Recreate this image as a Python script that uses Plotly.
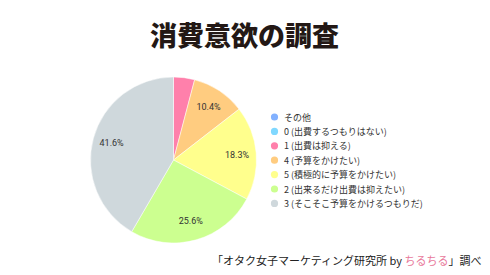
import plotly.graph_objects as go

labels = ["その他", "0 (出費するつもりはない)", "1 (出費は抑える)", "4 (予算をかけたい)",
          "5 (積極的に予算をかけたい)", "2 (出来るだけ出費は抑えたい)", "3 (そこそこ予算をかけるつもりだ)"]
values = [0, 0, 4.1, 10.4, 18.3, 25.6, 41.6]
colors = ["#82B1FF", "#80D8FF", "#FF80AB", "#FFCC80", "#FFFF8D", "#CCFF90", "#CFD8DC"]
slice_text = ["", "", "", "10.4%", "18.3%", "25.6%", "41.6%"]

W, H = 490, 275
cx, cy, r = 173.5, 160, 83
dom = dict(x=[(cx - r) / W, (cx + r) / W], y=[1 - (cy + r) / H, 1 - (cy - r) / H])

fig = go.Figure()
fig.add_trace(go.Pie(
    labels=labels, values=values, sort=False, direction="clockwise", rotation=0,
    marker=dict(colors=colors, line=dict(color="white", width=0.5)),
    textinfo="none", showlegend=False, hoverinfo="label+value", domain=dom,
))
# transparent ring used only to place the percentage labels further out
fig.add_trace(go.Pie(
    labels=labels, values=values, sort=False, direction="clockwise", rotation=0, hole=0.54,
    marker=dict(colors=["rgba(0,0,0,0)"] * len(labels), line=dict(width=0)),
    text=slice_text, texttemplate="%{text}", textposition="inside",
    insidetextorientation="horizontal",
    textfont=dict(size=9, color="#333333", family="Roboto, Noto Sans CJK JP"),
    showlegend=False, hoverinfo="skip", domain=dom,
))

shapes, annotations = [], []
lx, ly0, dy, mr = 274.5, 117, 14.4, 3.6
for i, (lab, col) in enumerate(zip(labels, colors)):
    yy = ly0 + i * dy
    shapes.append(dict(type="circle", xref="paper", yref="paper",
                       x0=(lx - mr) / W, x1=(lx + mr) / W,
                       y0=1 - (yy + mr) / H, y1=1 - (yy - mr) / H,
                       fillcolor=col, line=dict(width=0)))
    annotations.append(dict(text=lab, x=(lx + 7) / W, y=1 - yy / H, xref="paper", yref="paper",
                            showarrow=False, xanchor="left", yanchor="middle",
                            font=dict(size=9, color="#333333", family="Noto Sans CJK JP")))

annotations += [
    dict(text="消費意欲の調査", x=244 / W, y=1 - 35 / H, xref="paper", yref="paper",
         showarrow=False, xanchor="center", yanchor="middle",
         font=dict(size=27, color="#231815", family="Noto Sans CJK JP", weight=900)),
    dict(text="「オタク女子マーケティング研究所 by <span style='color:#E8789A'>ちるちる</span>」調べ",
         x=484 / W, y=1 - 260 / H, xref="paper", yref="paper",
         showarrow=False, xanchor="right", yanchor="middle",
         font=dict(size=11, color="#222222", family="Noto Sans CJK JP")),
]

fig.update_layout(
    width=W, height=H, margin=dict(l=0, r=0, t=0, b=0),
    paper_bgcolor="white", plot_bgcolor="white",
    shapes=shapes, annotations=annotations,
)
fig.write_html("out.html")
